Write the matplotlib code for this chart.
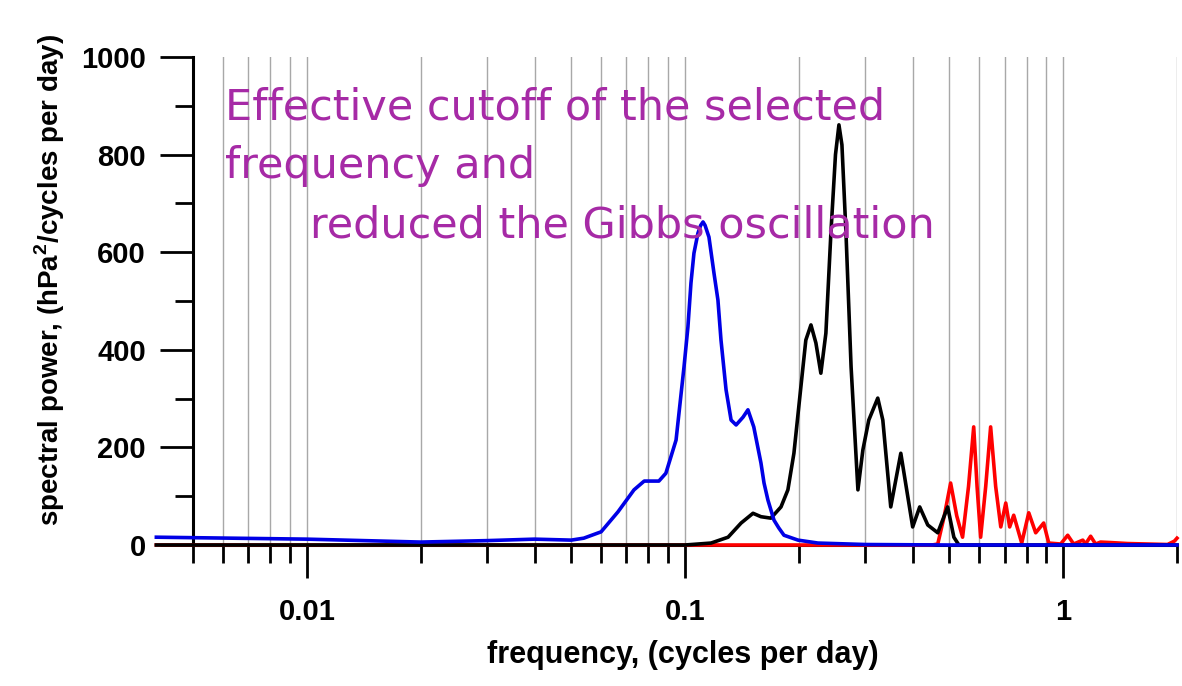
import matplotlib
matplotlib.use("Agg")
import matplotlib.pyplot as plt
from matplotlib.ticker import LogLocator, NullFormatter, FuncFormatter, MultipleLocator

plt.rcParams['font.family'] = 'Liberation Sans'
plt.rcParams['mathtext.fontset'] = 'custom'
plt.rcParams['mathtext.rm'] = 'Liberation Sans:bold'
plt.rcParams['mathtext.bf'] = 'Liberation Sans:bold'

# low-pass band (blue)
freq_blue = [0.004, 0.005, 0.01, 0.02, 0.03, 0.04, 0.05, 0.054, 0.06, 0.0665, 0.0733,
             0.078, 0.0853, 0.089, 0.0947, 0.0994, 0.1018, 0.1037, 0.1056, 0.1082,
             0.110, 0.1116, 0.113, 0.1157, 0.1193, 0.1222, 0.1245, 0.1284, 0.1324,
             0.1365, 0.1424, 0.1467, 0.152, 0.1588, 0.1618, 0.1657, 0.1719, 0.177,
             0.1827, 0.199, 0.2246, 0.3, 0.5, 1.0, 2.0]
power_blue = [16, 15, 12, 6, 9, 12, 10, 14, 27, 68, 113,
              131, 131, 147, 215, 365, 447, 537, 598, 639,
              655, 662, 655, 631, 557, 502, 420, 318, 256,
              246, 262, 277, 242, 168, 127, 92, 51, 35,
              20, 10, 4, 1, 0, 0, 0]

# band-pass (black)
freq_black = [0.004, 0.1, 0.1172, 0.130, 0.1407, 0.1513, 0.1588, 0.1687, 0.1794,
              0.1871, 0.1941, 0.2025, 0.2087, 0.2153, 0.2219, 0.2287, 0.2358,
              0.2431, 0.250, 0.2553, 0.260, 0.2665, 0.2749, 0.2866, 0.2954,
              0.3062, 0.3234, 0.3335, 0.35, 0.3721, 0.40, 0.4175, 0.4385, 0.466,
              0.495, 0.514, 0.53, 2.0]
power_black = [0, 0, 4, 16, 45, 65, 58, 55, 78,
               113, 188, 324, 420, 451, 414, 352, 434,
               639, 800, 861, 820, 639, 365, 113, 195,
               256, 301, 256, 78, 188, 37, 78, 41, 25,
               78, 16, 0, 0]

# high-pass (red)
freq_red = [0.004, 0.45, 0.466, 0.485, 0.504, 0.523, 0.542, 0.562, 0.580, 0.592,
            0.605, 0.624, 0.643, 0.663, 0.684, 0.705, 0.722, 0.740, 0.777, 0.811,
            0.846, 0.888, 0.916, 0.985, 1.028, 1.066, 1.127, 1.146, 1.182, 1.218,
            1.256, 1.335, 1.48, 1.671, 1.888, 1.969, 2.0]
power_red = [0, 0, 2, 60, 127, 60, 16, 120, 242, 120,
             16, 120, 242, 120, 37, 86, 37, 61, 4, 66,
             25, 45, 4, 2, 20, 2, 10, 2, 18, 2,
             6, 5, 3, 2, 1, 8, 14]

note_lines = ["Effective cutoff of the selected", "frequency and",
              "reduced the Gibbs oscillation"]

fig = plt.figure(figsize=(11.82, 6.86), dpi=100)
ax = fig.add_axes([193/1182, 1 - 545/686, 984/1182, 488/686])

ax.plot(freq_red, power_red, color='#ff0000', lw=2.6, clip_on=False, zorder=3)
ax.plot(freq_black, power_black, color='black', lw=2.6, clip_on=False, zorder=4)
ax.plot(freq_blue, power_blue, color='#0000e6', lw=2.6, clip_on=False, zorder=5)

ax.set_xscale('log')
ax.set_xlim(0.005, 2)
ax.set_ylim(0, 1000)

ax.xaxis.set_major_locator(LogLocator(base=10))
ax.xaxis.set_minor_locator(LogLocator(base=10, subs=range(2, 10)))
ax.xaxis.set_major_formatter(FuncFormatter(lambda v, p: '%g' % v))
ax.xaxis.set_minor_formatter(NullFormatter())
ax.yaxis.set_major_locator(MultipleLocator(200))
ax.yaxis.set_minor_locator(MultipleLocator(100))

ax.grid(which='both', axis='x', color='#a8a8a8', lw=1.0, zorder=0)
ax.set_axisbelow(True)

for s in ['top', 'right']:
    ax.spines[s].set_visible(False)
for s in ['left', 'bottom']:
    ax.spines[s].set_linewidth(2.2)

ax.tick_params(which='major', length=24, width=2, labelsize=21, pad=10)
ax.tick_params(axis='x', which='major', pad=14)
ax.tick_params(which='minor', length=13, width=2)
for lab in ax.get_xticklabels() + ax.get_yticklabels():
    lab.set_fontweight('bold')

ax.set_xlabel('frequency, (cycles per day)', fontsize=22, fontweight='bold')
ax.set_ylabel(r'spectral power, (hPa$^{\mathrm{2}}$/cycles per day)',
              fontsize=20, fontweight='bold')
ax.xaxis.set_label_coords(0.498, -0.195)
ax.yaxis.set_label_coords(-0.128, 0.543)

ys = [1 - 120/686, 1 - 178/686, 1 - 237/686]
xs = [225/1182, 225/1182, 310/1182]
for t, x, y in zip(note_lines, xs, ys):
    fig.text(x, y, t, color='#a62aa6', fontsize=31, family='DejaVu Sans',
             va='baseline', ha='left')

fig.savefig('out.png', dpi=100)
